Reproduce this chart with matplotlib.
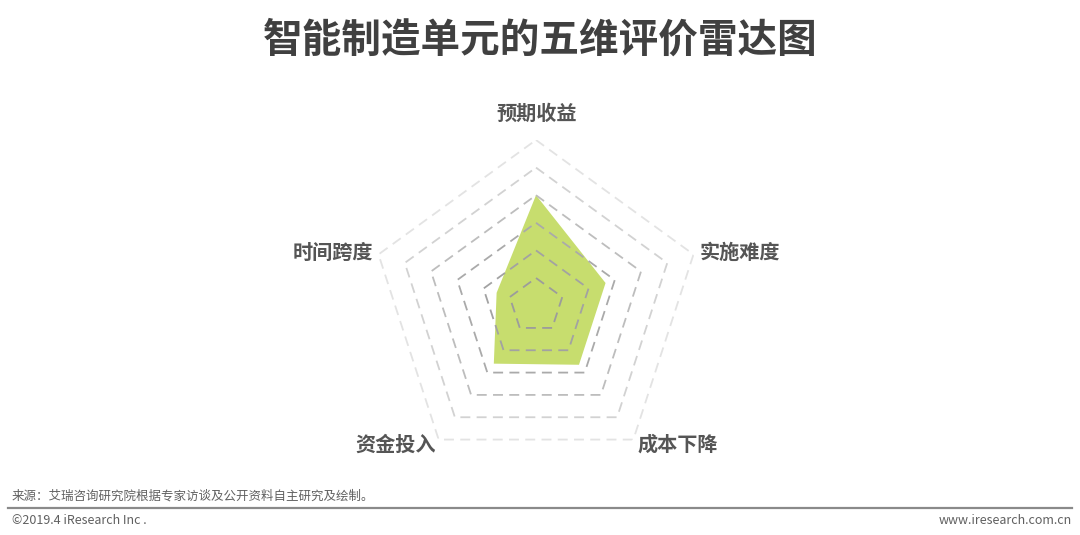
import numpy as np
import matplotlib
matplotlib.use("Agg")
import matplotlib.pyplot as plt

plt.rcParams['font.family'] = ['Noto Sans CJK SC', 'DejaVu Sans']

W, H = 1080, 535
my_dpi = 100

title = "智能制造单元的五维评价雷达图"
categories = ["预期收益", "实施难度", "成本下降", "资金投入", "时间跨度"]
values = [4.0, 2.65, 2.65, 2.6, 1.5]
rings = [1, 2, 3, 4, 5, 6]
ring_colors = ["#9c9c9c", "#a2a2a2", "#aaaaaa", "#bdbdbd", "#d2d2d2", "#e3e3e3"]
source = "来源：艾瑞咨询研究院根据专家访谈及公开资料自主研究及绘制。"
copyright_txt = "©2019.4 iResearch Inc ."
site = "www.iresearch.com.cn"

fig = plt.figure(figsize=(W / my_dpi, H / my_dpi), dpi=my_dpi)
fig.patch.set_facecolor("white")

# polar axes placed so the centre and outer ring match the picture
cx, cy, R = 536, 305.6, 165.6
ax = fig.add_axes([(cx - R) / W, (H - cy - R) / H, 2 * R / W, 2 * R / H],
                  projection="polar")
ax.set_theta_offset(np.pi / 2)
ax.set_theta_direction(-1)
ax.set_ylim(0, 6)
ax.axis("off")

n = len(categories)
angles = np.linspace(0, 2 * np.pi, n, endpoint=False)
closed = np.append(angles, angles[0])

ax.fill(closed, values + values[:1], color="#c7dd6e", zorder=1, lw=0)

for r, col in zip(rings, ring_colors):
    ax.plot(closed, [r] * (n + 1), color=col, lw=1.3,
            dashes=(5.5, 3.5), zorder=2)

# axis labels
label_style = dict(fontsize=14.5, fontweight="bold", color="#555555")
fig.text(537 / W, 1 - 113 / H, categories[0], ha="center", va="center", **label_style)
fig.text(700 / W, 1 - 252 / H, categories[1], ha="left", va="center", **label_style)
fig.text(637 / W, 1 - 444 / H, categories[2], ha="left", va="center", **label_style)
fig.text(436 / W, 1 - 444 / H, categories[3], ha="right", va="center", **label_style)
fig.text(373 / W, 1 - 252 / H, categories[4], ha="right", va="center", **label_style)

fig.text(540 / W, 1 - 40 / H, title, ha="center", va="center",
         fontsize=28.5, fontweight="bold", color="#404040")

fig.text(12 / W, 1 - 496 / H, source, ha="left", va="center",
         fontsize=9, color="#606060")
fig.add_artist(plt.Line2D([8 / W, 1072 / W], [1 - 508 / H, 1 - 508 / H],
                          color="#8a8a8a", lw=1.6))
fig.text(12 / W, 1 - 520 / H, copyright_txt, ha="left", va="center",
         fontsize=9, color="#606060")
fig.text(1072 / W, 1 - 520 / H, site, ha="right", va="center",
         fontsize=9, color="#606060")

fig.savefig("out.png", dpi=my_dpi, facecolor="white")
